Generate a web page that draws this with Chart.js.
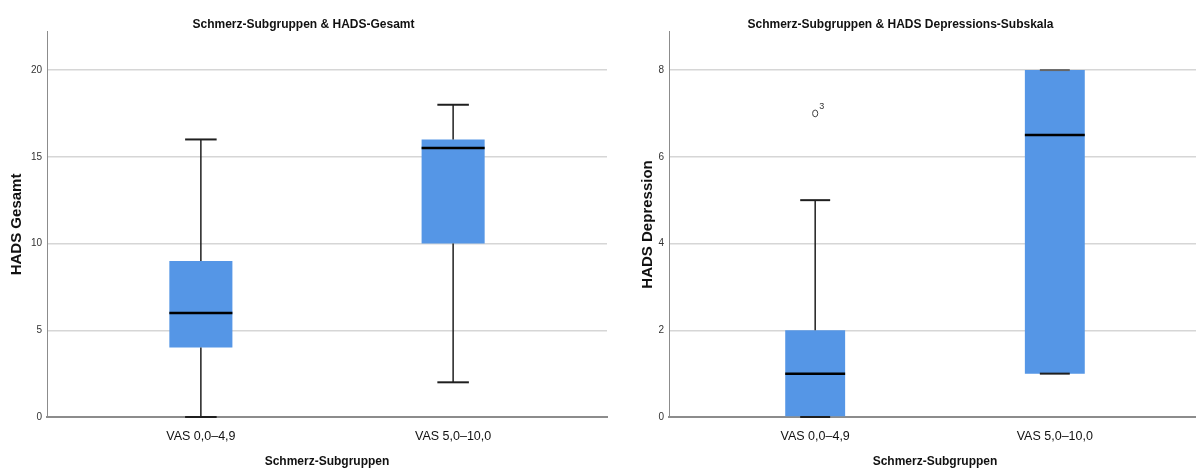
<!DOCTYPE html>
<html lang="de">
<head>
<meta charset="UTF-8">
<title>Schmerz-Subgruppen &amp; HADS</title>
<script src="https://cdn.jsdelivr.net/npm/chart.js"></script>
<style>
    html, body { margin: 0; padding: 0; background: #fff; overflow: hidden; }
    .wrap { position: relative; width: 1196px; height: 472px; overflow: hidden; }
    .wrap > div { position: absolute; top: 0; height: 472px; }
    #left { left: 0; width: 612px; }
    #right { left: 600px; width: 640px; }
</style>
</head>
<body>
<div class="wrap">
    <div id="left"><canvas id="gesamtChart"></canvas></div>
    <div id="right"><canvas id="depChart"></canvas></div>
</div>

<script>
    // Gruppen (x-Achse)
    const categories = ['VAS 0,0–4,9', 'VAS 5,0–10,0'];

    // HADS Gesamt: Min, Q1, Median, Q3, Max je Gruppe
    const gesMin = [0, 2];
    const gesQ1  = [4, 10];
    const gesMed = [6, 15.5];
    const gesQ3  = [9, 16];
    const gesMax = [16, 18];

    // HADS Depression
    const depMin = [0, 1];
    const depQ1  = [0, 1];
    const depMed = [1, 6.5];
    const depQ3  = [2, 8];
    const depMax = [5, 8];

    // Ausreißer Depression (Gruppe, Wert, Fallnummer)
    const depOutCat = [0];
    const depOutVal = [7];
    const depOutId  = ['3'];

    const narrow = "'Liberation Sans Narrow', 'Liberation Sans', sans-serif";

    // Whisker, Endstriche, Median und Ausreißer über die Skalen zeichnen
    function whiskerPlugin(o) {
        return {
            id: 'whiskers',
            afterDatasetsDraw(chart) {
                const { ctx, scales: { x, y } } = chart;
                const bars = chart.getDatasetMeta(0).data;
                const line = (x1, y1, x2, y2, lw, col) => {
                    ctx.beginPath();
                    ctx.moveTo(x1, y1);
                    ctx.lineTo(x2, y2);
                    ctx.lineWidth = lw;
                    ctx.strokeStyle = col;
                    ctx.stroke();
                };
                ctx.save();
                categories.forEach((c, i) => {
                    const cx = x.getPixelForValue(i);
                    const w = bars[i].width;
                    const yMin = y.getPixelForValue(o.min[i]);
                    const yQ1 = y.getPixelForValue(o.q1[i]);
                    const yMed = y.getPixelForValue(o.med[i]);
                    const yQ3 = y.getPixelForValue(o.q3[i]);
                    const yMax = y.getPixelForValue(o.max[i]);
                    if (yMax < yQ3) line(cx, yQ3, cx, yMax, 1.5, '#1f1f1f');
                    if (yMin > yQ1) line(cx, yQ1, cx, yMin, 1.5, '#1f1f1f');
                    line(cx - w / 4, yMax, cx + w / 4, yMax, 2, o.max[i] === o.q3[i] ? '#666' : '#1f1f1f');
                    line(cx - w / 4, yMin, cx + w / 4, yMin, 2, '#1f1f1f');
                    line(cx - w / 2, yMed, cx + w / 2, yMed, 2.5, '#000');
                });
                (o.outCat || []).forEach((ci, k) => {
                    const px = x.getPixelForValue(ci);
                    const py = y.getPixelForValue(o.outVal[k]);
                    ctx.beginPath();
                    ctx.ellipse(px, py, 2.6, 3.4, 0, 0, Math.PI * 2);
                    ctx.lineWidth = 1;
                    ctx.strokeStyle = '#444';
                    ctx.stroke();
                    ctx.fillStyle = '#333';
                    ctx.font = '9px ' + narrow;
                    ctx.textBaseline = 'middle';
                    ctx.fillText(o.outId[k], px + 4, py - 7);
                });
                ctx.restore();
            }
        };
    }

    function boxChart(id, o) {
        return new Chart(document.getElementById(id), {
            type: 'bar',
            data: {
                datasets: [{
                    data: categories.map((c, i) => ({ x: i, y: [o.q1[i], o.q3[i]] })),
                    backgroundColor: '#5596e6',
                    borderWidth: 0,
                    borderSkipped: false,
                    barPercentage: 0.25,
                    categoryPercentage: 1
                }]
            },
            options: {
                responsive: true,
                maintainAspectRatio: false,
                animation: false,
                layout: { padding: { top: 5, right: o.padRight, left: 0, bottom: 0 } },
                plugins: {
                    legend: { display: false },
                    tooltip: { enabled: false },
                    title: {
                        display: true,
                        text: o.title,
                        color: '#111',
                        font: { family: narrow, size: 12, weight: 'bold' },
                        padding: { top: 12.5, bottom: 0 }
                    }
                },
                scales: {
                    x: {
                        type: 'linear',
                        min: -0.61,
                        max: 1.61,
                        offset: false,
                        grid: { display: false, drawTicks: false },
                        border: { color: '#8c8c8c', width: 2 },
                        ticks: {
                            stepSize: 1,
                            includeBounds: false,
                            padding: 12,
                            color: '#111',
                            font: { family: narrow, size: 12.5 },
                            callback: v => categories[v] ?? ''
                        },
                        title: {
                            display: true,
                            text: 'Schmerz-Subgruppen',
                            color: '#111',
                            font: { family: narrow, size: 12, weight: 'bold' },
                            padding: { top: 0, bottom: 3 }
                        },
                        afterFit: s => { s.height = 55; }
                    },
                    y: {
                        min: 0,
                        max: o.max_,
                        grid: { color: '#d6d6d6', lineWidth: 1.5, drawTicks: false },
                        border: { color: '#8c8c8c', width: 1 },
                        ticks: {
                            stepSize: o.step,
                            includeBounds: false,
                            padding: 5,
                            color: '#333',
                            font: { family: narrow, size: 10 }
                        },
                        title: {
                            display: true,
                            text: o.yTitle,
                            color: '#111',
                            font: { family: "'Liberation Sans', sans-serif", size: 15, weight: 'bold' },
                            padding: { top: o.yTitlePad, bottom: 0 }
                        },
                        afterFit: s => { s.width = o.axisW; }
                    }
                }
            },
            plugins: [whiskerPlugin(o)]
        });
    }

    boxChart('gesamtChart', {
        title: 'Schmerz-Subgruppen & HADS-Gesamt',
        yTitle: 'HADS Gesamt',
        min: gesMin, q1: gesQ1, med: gesMed, q3: gesQ3, max: gesMax,
        max_: 22.2, step: 5,
        axisW: 47, yTitlePad: 8, padRight: 5
    });

    boxChart('depChart', {
        title: 'Schmerz-Subgruppen & HADS Depressions-Subskala',
        yTitle: 'HADS Depression',
        min: depMin, q1: depQ1, med: depMed, q3: depQ3, max: depMax,
        outCat: depOutCat, outVal: depOutVal, outId: depOutId,
        max_: 8.88, step: 2,
        axisW: 69, yTitlePad: 39, padRight: 39
    });
</script>
</body>
</html>
